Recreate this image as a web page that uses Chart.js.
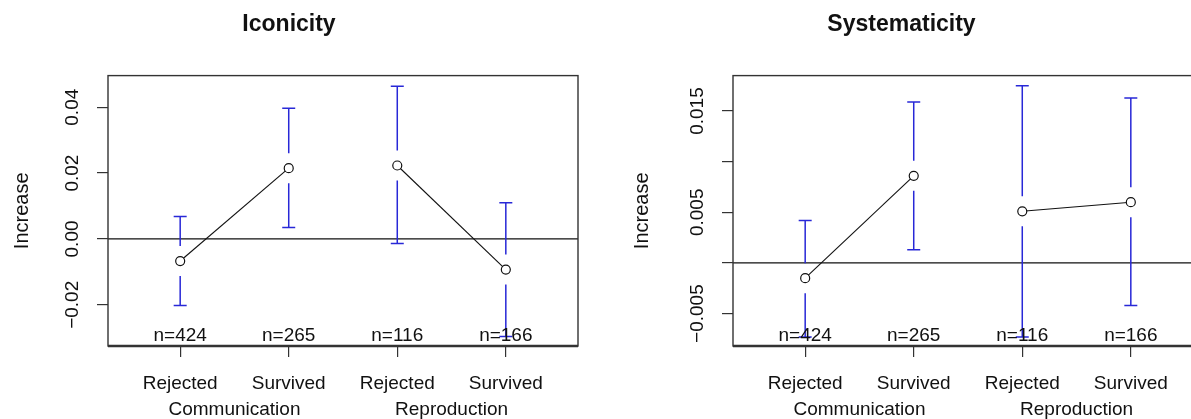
<!DOCTYPE html>
<html>
<head>
<meta charset="utf-8">
<script src="https://cdn.jsdelivr.net/npm/chart.js@4/dist/chart.umd.min.js"></script>
<style>
  html, body { margin: 0; padding: 0; background: #fff; overflow: hidden; width: 1191px; height: 419px; }
  canvas { position: absolute; top: 0; }
</style>
</head>
<body>
<canvas id="iconicity" width="600" height="419" style="left:0px"></canvas>
<canvas id="systematicity" width="620" height="419" style="left:600px"></canvas>
<script>
// data
const conditions = ["Rejected", "Survived", "Rejected", "Survived"];
const groups = ["Communication", "Reproduction"];
const counts = [424, 265, 116, 166];

const iconMean = [-0.0067, 0.0215, 0.0223, -0.0093];
const iconLow = [-0.0202, 0.0035, -0.0014, -0.0296];
const iconHigh = [0.0068, 0.0397, 0.0464, 0.0110];
const iconTicks = [-0.02, 0, 0.02, 0.04];
const iconTickLabels = ["\u22120.02", "0.00", "0.02", "0.04"];

const sysMean = [-0.0015, 0.0086, 0.0051, 0.0060];
const sysLow = [-0.0073, 0.0013, -0.0073, -0.0042];
const sysHigh = [0.0042, 0.0159, 0.0175, 0.0163];
const sysTicks = [-0.005, 0, 0.005, 0.010, 0.015];
const sysTickLabels = ["\u22120.005", "", "0.005", "", "0.015"];

const FONT = "'Liberation Sans', Arial, Helvetica, sans-serif";
const TICK_SIZE = 19;
const BLUE = "rgb(40,40,215)";

function textWidth(str, font) {
  const c = document.createElement("canvas").getContext("2d");
  c.font = font;
  return c.measureText(str).width;
}

// error bars, zero line, frame and n= labels
const extras = {
  id: "extras",
  beforeDatasetsDraw(chart) {
    const { ctx, chartArea: a, scales: { x, y } } = chart;
    const p = chart.options.plugins.extras;
    ctx.save();
    // zero line
    ctx.strokeStyle = "#111";
    ctx.lineWidth = 1.3;
    const y0 = y.getPixelForValue(0);
    ctx.beginPath();
    ctx.moveTo(a.left, y0);
    ctx.lineTo(a.right, y0);
    ctx.stroke();
    // error bars with gap round the point
    ctx.strokeStyle = BLUE;
    ctx.lineWidth = 1.5;
    const gap = 15, cap = 6.5;
    p.mean.forEach((m, i) => {
      const px = x.getPixelForValue(i + 1);
      const pm = y.getPixelForValue(m);
      const ph = y.getPixelForValue(p.high[i]);
      const pl = y.getPixelForValue(p.low[i]);
      ctx.beginPath();
      ctx.moveTo(px, ph); ctx.lineTo(px, pm - gap);
      ctx.moveTo(px, pm + gap); ctx.lineTo(px, pl);
      ctx.moveTo(px - cap, ph); ctx.lineTo(px + cap, ph);
      ctx.moveTo(px - cap, pl); ctx.lineTo(px + cap, pl);
      ctx.stroke();
    });
    ctx.restore();
  },
  afterDraw(chart) {
    const { ctx, chartArea: a, scales: { x } } = chart;
    ctx.save();
    ctx.strokeStyle = "#333";
    ctx.lineWidth = 1.4;
    ctx.strokeRect(a.left, a.top, a.right - a.left, a.bottom - a.top);
    ctx.lineWidth = 2.4;
    ctx.beginPath();
    ctx.moveTo(a.left, a.bottom);
    ctx.lineTo(a.right, a.bottom);
    ctx.stroke();
    ctx.fillStyle = "#111";
    ctx.font = TICK_SIZE + "px " + FONT;
    ctx.textAlign = "center";
    ctx.textBaseline = "middle";
    counts.forEach((n, i) => {
      ctx.fillText("n=" + n, x.getPixelForValue(i + 1), a.bottom - 10);
    });
    ctx.restore();
  }
};

function makeChart(id, title, mean, low, high, ticks, tickLabels, yMin, yMax, areaLeft, padRight, labelX, titlePad) {
  const tickFont = TICK_SIZE + "px " + FONT;
  const widest = Math.max(...tickLabels.map(t => textWidth(t, tickFont)));
  const tl = 11;
  const yPad = areaLeft - tl - labelX - widest / 2;
  const point = {
    borderColor: "#111",
    backgroundColor: "#fff",
    borderWidth: 1.1,
    pointRadius: 4.5,
    pointBorderWidth: 1.2,
    pointBackgroundColor: "#fff",
    pointBorderColor: "#111",
    tension: 0
  };
  return new Chart(document.getElementById(id), {
    type: "line",
    data: {
      datasets: [
        Object.assign({ label: groups[0], data: [0, 1].map(i => ({ x: i + 1, y: mean[i] })) }, point),
        Object.assign({ label: groups[1], data: [2, 3].map(i => ({ x: i + 1, y: mean[i] })) }, point)
      ]
    },
    options: {
      responsive: false,
      animation: false,
      layout: { padding: { left: 0, right: padRight, top: 0, bottom: 0 } },
      plugins: {
        legend: { display: false },
        tooltip: { enabled: false },
        title: {
          display: true,
          text: title,
          color: "#111",
          font: { family: FONT, size: 23, weight: "bold" },
          padding: { top: 11, bottom: 37 }
        },
        extras: { mean: mean, low: low, high: high }
      },
      scales: {
        x: {
          type: "linear",
          position: "bottom",
          min: 0.335,
          max: 4.665,
          afterBuildTicks: s => { s.ticks = conditions.map((c, i) => ({ value: i + 1 })); },
          afterFit: s => { s.height = 52; },
          grid: { display: true, drawOnChartArea: false, drawTicks: true, tickLength: 11, color: "#333", lineWidth: 1.2 },
          border: { display: false },
          ticks: {
            autoSkip: false,
            maxRotation: 0,
            padding: 15,
            color: "#111",
            font: { family: FONT, size: TICK_SIZE },
            callback: v => conditions[Math.round(v) - 1]
          }
        },
        x2: {
          type: "linear",
          position: "bottom",
          weight: 1,
          min: 0.335,
          max: 4.665,
          afterBuildTicks: s => { s.ticks = groups.map((g, i) => ({ value: 1.5 + 2 * i })); },
          afterFit: s => { s.height = 21; },
          grid: { display: false, drawTicks: false },
          border: { display: false },
          ticks: {
            autoSkip: false,
            maxRotation: 0,
            padding: 0,
            color: "#111",
            font: { family: FONT, size: TICK_SIZE },
            callback: v => groups[Math.round((v - 1.5) / 2)]
          }
        },
        y: {
          type: "linear",
          position: "left",
          min: yMin,
          max: yMax,
          afterBuildTicks: s => { s.ticks = ticks.map(v => ({ value: v })); },
          afterFit: s => { s.width = areaLeft; },
          grid: { display: true, drawOnChartArea: false, drawTicks: true, tickLength: tl, color: "#333", lineWidth: 1.2 },
          border: { display: false },
          title: {
            display: true,
            text: "Increase",
            color: "#111",
            font: { family: FONT, size: TICK_SIZE + 1 },
            padding: { top: titlePad, bottom: 0 }
          },
          ticks: {
            autoSkip: false,
            minRotation: 90,
            maxRotation: 90,
            crossAlign: "center",
            padding: yPad,
            color: "#111",
            font: { family: FONT, size: TICK_SIZE },
            callback: v => tickLabels[ticks.findIndex(t => Math.abs(t - v) < 1e-9)]
          }
        }
      }
    },
    plugins: [extras]
  });
}

makeChart("iconicity", "Iconicity", iconMean, iconLow, iconHigh, iconTicks, iconTickLabels,
  -0.0325, 0.0496, 108, 22, 72.5, 10);
makeChart("systematicity", "Systematicity", sysMean, sysLow, sysHigh, sysTicks, sysTickLabels,
  -0.0082, 0.0185, 133, 17, 97.5, 30);
</script>
</body>
</html>
